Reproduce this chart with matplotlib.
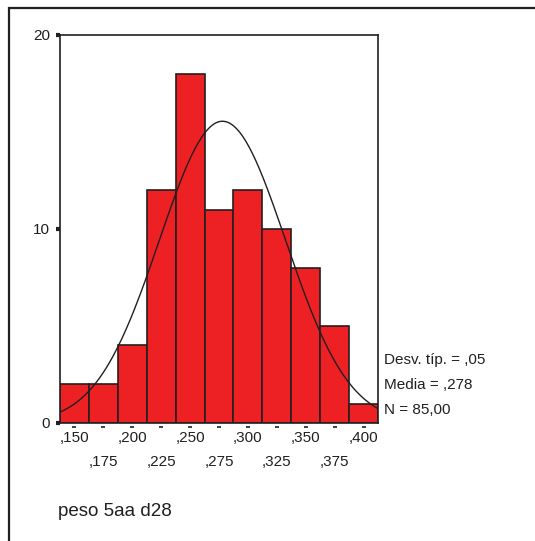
import numpy as np
import matplotlib
matplotlib.use("Agg")
import matplotlib.pyplot as plt
from matplotlib.patches import Rectangle

plt.rcParams['font.family'] = ['Liberation Sans', 'DejaVu Sans']

# histogram data (bin centres and counts)
bin_centres = [0.150, 0.175, 0.200, 0.225, 0.250, 0.275, 0.300, 0.325, 0.350, 0.375, 0.400]
counts = [2, 2, 4, 12, 18, 11, 12, 10, 8, 5, 1]
bin_width = 0.025
tick_labels = [",150", ",175", ",200", ",225", ",250", ",275", ",300", ",325", ",350", ",375", ",400"]
y_ticks = [0, 10, 20]

# normal curve parameters
mean = 0.278
sd = 0.0545
n = 85
stats_lines = ["Desv. típ. = ,05", "Media = ,278", "N = 85,00"]
var_label = "peso 5aa d28"

W, H = 535, 541
fig = plt.figure(figsize=(W / 100, H / 100), dpi=100, facecolor='white')

# outer frame (only top and left edges visible)
fig.patches.append(Rectangle((9 / W, -0.1), 1.2, 1 - 8 / H + 0.1,
                             transform=fig.transFigure, fill=False,
                             edgecolor='#231f20', linewidth=1.6))

ax = fig.add_axes([60 / W, (H - 423) / H, 318 / W, 388 / H])
ax.bar(bin_centres, counts, width=bin_width, color='#ed2024',
       edgecolor='#231f20', linewidth=1.2)

lo = bin_centres[0] - bin_width / 2
hi = bin_centres[-1] + bin_width / 2
xs = np.linspace(lo, hi, 300)
ys = n * bin_width / (sd * np.sqrt(2 * np.pi)) * np.exp(-0.5 * ((xs - mean) / sd) ** 2)
ax.plot(xs, ys, color='#231f20', linewidth=1.0)

ax.set_xlim(lo, hi)
ax.set_ylim(0, 20)
for s in ax.spines.values():
    s.set_color('#231f20')
    s.set_linewidth(1.2)

ax.set_yticks(y_ticks)
ax.set_yticklabels([str(v) for v in y_ticks], fontsize=11, color='#231f20')
ax.tick_params(axis='y', length=3, width=3, pad=4, color='#231f20')
ax.set_xticks([])

# small dash ticks below the x axis and staggered labels
for i, (c, lab) in enumerate(zip(bin_centres, tick_labels)):
    ax.plot([c - 0.0017, c + 0.0017], [-0.22, -0.22], color='#231f20',
            linewidth=1.2, clip_on=False, solid_capstyle='butt')
    dy = -15 if i % 2 == 0 else -39
    ax.annotate(lab, xy=(c, 0), xycoords=('data', 'axes fraction'),
                xytext=(0, dy), textcoords='offset pixels',
                ha='center', va='center', fontsize=11, color='#231f20')

for j, line in enumerate(stats_lines):
    fig.text(384 / W, 1 - (360 + 25 * j) / H, line, ha='left', va='center',
             fontsize=11, color='#231f20')

fig.text(58 / W, 1 - 512 / H, var_label, ha='left', va='center',
         fontsize=13.5, color='#231f20')

fig.savefig('out.png', dpi=100, facecolor='white')
